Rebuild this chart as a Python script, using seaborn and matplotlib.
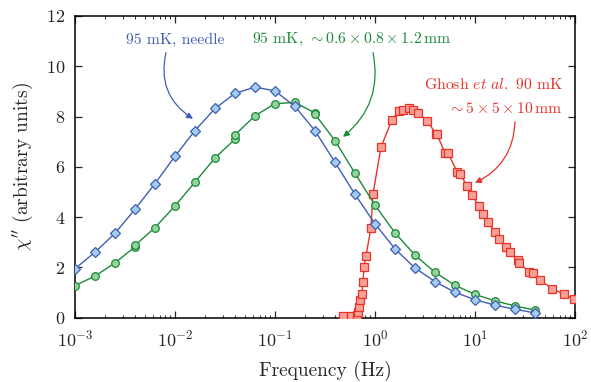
import numpy as np
import pandas as pd
import matplotlib
matplotlib.use("Agg")
import matplotlib.pyplot as plt
import seaborn as sns
from matplotlib.ticker import LogLocator, NullFormatter, FixedLocator

# ---- data (log10 of frequency in Hz, chi'' in arbitrary units) ----
needle_logf = [-3.0, -2.8, -2.6, -2.4, -2.2, -2.0, -1.8, -1.6, -1.4, -1.2, -1.0, -0.8,
               -0.6, -0.4, -0.2, 0.0, 0.2, 0.4, 0.6, 0.8, 1.0, 1.2, 1.4, 1.6]
needle_chi = [1.94, 2.60, 3.35, 4.31, 5.33, 6.42, 7.44, 8.32, 8.92, 9.17, 9.02, 8.40,
              7.43, 6.18, 4.90, 3.73, 2.73, 1.97, 1.43, 1.00, 0.71, 0.49, 0.33, 0.18]

small_logf = [-3.0, -2.8, -2.6, -2.4, -2.4, -2.2, -2.0, -1.8, -1.6, -1.4, -1.4, -1.2,
              -1.0, -0.8, -0.6, -0.6, -0.4, -0.2, 0.0, 0.2, 0.4, 0.6, 0.8, 1.0, 1.2, 1.4, 1.6]
small_chi = [1.27, 1.65, 2.17, 2.82, 2.87, 3.58, 4.44, 5.39, 6.35, 7.10, 7.27, 8.03,
             8.51, 8.56, 8.14, 8.09, 7.04, 5.74, 4.47, 3.37, 2.48, 1.80, 1.28, 0.92, 0.66, 0.46, 0.29]

ghosh_logf = [-0.32, -0.24, -0.18, -0.17, -0.16, -0.15, -0.13, -0.12, -0.11, -0.09, -0.04,
              -0.02, 0.06, 0.17, 0.24, 0.28, 0.34, 0.38, 0.43, 0.52, 0.61, 0.62, 0.70, 0.73,
              0.82, 0.85, 0.92, 0.97, 1.04, 1.08, 1.13, 1.20, 1.24, 1.31, 1.35, 1.43, 1.44,
              1.54, 1.58, 1.65, 1.77, 1.89, 1.99]
ghosh_chi = [0.07, 0.06, 0.10, 0.23, 0.41, 0.70, 0.95, 1.43, 2.02, 2.46, 3.58,
             4.92, 6.78, 7.87, 8.23, 8.24, 8.33, 8.27, 8.14, 7.84, 7.30, 7.30, 6.54, 6.54,
             5.81, 5.72, 5.24, 4.87, 4.44, 4.10, 3.80, 3.39, 3.12, 2.80, 2.61, 2.28, 2.18,
             1.82, 1.77, 1.49, 1.15, 0.92, 0.73]

y_ticks = [0, 2, 4, 6, 8, 10, 12]

# ---- style ----
sns.set_style("ticks")
plt.rcParams["font.family"] = ["cmr10", "DejaVu Serif"]
plt.rcParams["mathtext.fontset"] = "cm"
plt.rcParams["axes.formatter.use_mathtext"] = True
plt.rcParams["axes.unicode_minus"] = False

fig = plt.figure(figsize=(5.91, 3.82), dpi=100)
ax = fig.add_axes([75 / 591, 1 - 317.5 / 382, 500 / 591, 301.5 / 382])

blue_line, blue_face = "#3f5fb5", "#a3cdef"
green_line, green_face = "#1d8a38", "#93d39c"
red_line, red_face = "#e8332a", "#f6a197"

df_n = pd.DataFrame({"f": 10 ** np.array(needle_logf), "chi": needle_chi})
df_s = pd.DataFrame({"f": 10 ** np.array(small_logf), "chi": small_chi})
df_g = pd.DataFrame({"f": 10 ** np.array(ghosh_logf), "chi": ghosh_chi})

sns.lineplot(data=df_g, x="f", y="chi", ax=ax, estimator=None, sort=False,
             color=red_line, lw=1.0, marker="s", ms=5.2, markerfacecolor=red_face,
             markeredgecolor=red_line, markeredgewidth=0.9, zorder=3)
sns.lineplot(data=df_s, x="f", y="chi", ax=ax, estimator=None, sort=False,
             color=green_line, lw=1.0, marker="o", ms=5.5, markerfacecolor=green_face,
             markeredgecolor=green_line, markeredgewidth=0.9, zorder=4)
sns.lineplot(data=df_n, x="f", y="chi", ax=ax, estimator=None, sort=False,
             color=blue_line, lw=1.0, marker="D", ms=5.6, markerfacecolor=blue_face,
             markeredgecolor=blue_line, markeredgewidth=0.9, zorder=5)

ax.set_xscale("log")
ax.set_xlim(1e-3, 1e2)
ax.set_ylim(0, 12)
ax.yaxis.set_major_locator(FixedLocator(y_ticks))
ax.xaxis.set_major_locator(LogLocator(base=10, numticks=10))
ax.xaxis.set_minor_locator(LogLocator(base=10, subs=np.arange(2, 10), numticks=20))
ax.xaxis.set_minor_formatter(NullFormatter())

for s in ax.spines.values():
    s.set_visible(True)
    s.set_linewidth(1.1)
    s.set_color("black")

ax.tick_params(which="major", direction="in", length=5, width=0.9,
               top=True, right=True, labelsize=13, pad=7)
ax.tick_params(axis="x", which="major", pad=8)
ax.tick_params(which="minor", direction="in", length=2.5, width=0.7,
               top=True, right=True)
ax.tick_params(axis="y", which="minor", left=False, right=False)

ax.set_xlabel("Frequency (Hz)", fontsize=14, labelpad=8)
ax.set_ylabel(r"$\chi''$ (arbitrary units)", fontsize=14, labelpad=8)

# ---- annotations ----
fs = 11.3
ax.text(10 ** -2.0, 11.06, "95 mK, needle", color=blue_line, fontsize=fs,
        ha="center", va="center")
ax.annotate("", xy=(10 ** -1.82, 7.91), xytext=(10 ** -2.09, 10.54),
            arrowprops=dict(arrowstyle="-|>", color=blue_line, lw=0.9,
                            mutation_scale=9, connectionstyle="arc3,rad=0.35",
                            shrinkA=0, shrinkB=0))

ax.text(10 ** -1.23, 11.06, r"95 mK, $\sim 0.6\times 0.8\times 1.2\,\mathrm{mm}$",
        color=green_line, fontsize=fs, ha="left", va="center")
ax.annotate("", xy=(10 ** -0.32, 7.19), xytext=(10 ** -0.02, 10.54),
            arrowprops=dict(arrowstyle="-|>", color=green_line, lw=0.9,
                            mutation_scale=9, connectionstyle="arc3,rad=-0.3",
                            shrinkA=0, shrinkB=0))

ax.text(10 ** 1.88, 9.26, r"Ghosh $\mathit{et\ al.}$ 90 mK", color=red_line,
        fontsize=fs, ha="right", va="center")
ax.text(10 ** 1.88, 8.31, r"$\sim 5\times 5\times 10\,\mathrm{mm}$", color=red_line,
        fontsize=fs, ha="right", va="center")
ax.annotate("", xy=(10 ** 1.0, 5.36), xytext=(10 ** 1.40, 7.79),
            arrowprops=dict(arrowstyle="-|>", color=red_line, lw=0.9,
                            mutation_scale=9, connectionstyle="arc3,rad=-0.3",
                            shrinkA=0, shrinkB=0))

fig.savefig("out.png", dpi=100, facecolor="white")
